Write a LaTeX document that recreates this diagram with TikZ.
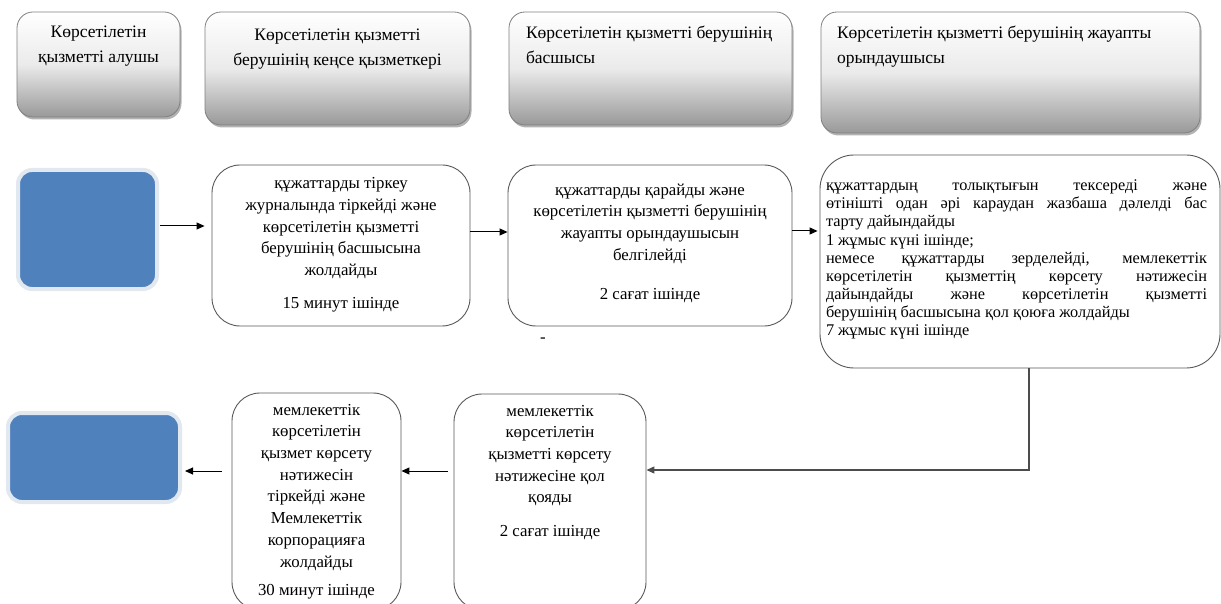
\documentclass[tikz,border=0pt]{standalone}
\usepackage{fontspec}
\setmainfont{Liberation Serif}
\usetikzlibrary{arrows.meta,shadows}
\definecolor{bluefill}{RGB}{79,129,189}
\definecolor{blueedge}{RGB}{226,232,240}
\newcommand\mybox[4]{\parbox[c][#2][t]{#1}{\vspace*{#3}#4}}
\begin{document}
\begin{tikzpicture}[x=1pt,y=-1pt,
  hdr/.style={draw=black!50, line width=0.8pt, rounded corners=16pt, inner sep=0pt,
    top color=white, bottom color=black!40, middle color=black!8,
    drop shadow={shadow xshift=1.5pt, shadow yshift=-2.5pt, opacity=0.3, fill=black}},
  flow/.style={draw=black!65, line width=0.9pt, rounded corners=28pt, fill=white, inner sep=0pt},
  bluebox/.style={fill=bluefill, draw=blueedge, line width=4pt, rounded corners=14pt, inner sep=0pt},
  arr/.style={-{Triangle[length=8pt,width=7pt]}, line width=1pt, black},
  conn/.style={-{Triangle[length=8pt,width=7pt]}, line width=1.1pt, draw=black!70}
]
\useasboundingbox (0,0) rectangle (1221,604);
\clip (0,0) rectangle (1221,604);
\fontsize{17.5}{25}\selectfont
% headers
\node[hdr] (h1) at (98.5,64.5) {\mybox{163pt}{105pt}{14pt}{\centering Көрсетілетін\\ қызметті алушы}};
\node[hdr] (h2) at (337.5,68.5) {\mybox{265pt}{113pt}{17pt}{\centering Көрсетілетін қызметті\\ берушінің кеңсе қызметкері}};
\node[hdr] (h3) at (650.5,68.5) {\mybox{283pt}{113pt}{14pt}{\raggedright\leftskip=17pt Көрсетілетін қызметті берушінің\\ басшысы}};
\node[hdr] (h4) at (1010.5,72.5) {\mybox{379pt}{121pt}{14pt}{\raggedright\leftskip=16pt Көрсетілетін қызметті берушінің жауапты\\ орындаушысы}};
% row 2
\node[bluebox] (s1) at (87.5,229.5) [minimum width=139pt, minimum height=119pt] {};
\fontsize{16.8}{21.7}\selectfont
\node[flow] (a) at (341,245.5) {\mybox{258pt}{161pt}{12.5pt}{\centering құжаттарды тіркеу\\ журналында тіркейді және\\ көрсетілетін қызметті\\ берушінің басшысына\\ жолдайды\\[11pt] 15 минут ішінде}};
\node[flow] (b) at (650,245.5) {\mybox{284pt}{161pt}{18.5pt}{\centering құжаттарды қарайды және\\ көрсетілетін қызметті берушінің\\ жауапты орындаушысын\\ белгілейді\\[17.5pt] 2 сағат ішінде}};
\node[flow, rounded corners=34pt] (c) at (1020,261.5) {\fontsize{16.3}{18.1}\selectfont\mybox{400pt}{213pt}{25pt}{\hspace*{6pt}\parbox[t]{381pt}{\tolerance=10000\hbadness=10000
құжаттардың толықтығын тексереді және\linebreak өтінішті одан әрі караудан жазбаша дәлелді бас\linebreak тарту дайындайды\\ 1 жұмыс күні ішінде;\\ немесе құжаттарды зерделейді, мемлекеттік\linebreak көрсетілетін қызметтің көрсету нәтижесін\linebreak дайындайды және көрсетілетін қызметті\linebreak берушінің басшысына қол қоюға жолдайды\\ 7 жұмыс күні ішінде}}};
\node (dash) at (543,340) {-};
% row 3
\node[bluebox] (s2) at (94,457.5) [minimum width=172pt, minimum height=89pt] {};
\node[flow] (d) at (316.5,501.5) {\mybox{169pt}{217pt}{11pt}{\centering мемлекеттік\\ көрсетілетін\\ қызмет көрсету\\ нәтижесін\\ тіркейді және\\ Мемлекеттік\\ корпорацияға\\ жолдайды\\[6.5pt] 30 минут ішінде}};
\node[flow] (e) at (550,502) {\mybox{192pt}{216pt}{11pt}{\centering мемлекеттік\\ көрсетілетін\\ қызметті көрсету\\ нәтижесіне қол\\ қояды\\[11.5pt] 2 сағат ішінде}};
% connectors
\draw[arr, shorten <=1pt, shorten >=7pt] (s1.east |- 0,226) -- (a.west |- 0,226);
\draw[arr] (a.east |- 0,232) -- (b.west |- 0,232);
\draw[arr, shorten >=2pt] (b.east |- 0,231) -- (c.west |- 0,231);
\draw[conn] (c.south -| 1029,0) |- (e.east |- 0,470);
\draw[arr, shorten <=6pt] (e.west |- 0,471) -- (d.east |- 0,471);
\draw[arr, shorten <=10pt, shorten >=3pt] (d.west |- 0,471) -- (s2.east |- 0,471);
\end{tikzpicture}
\end{document}
